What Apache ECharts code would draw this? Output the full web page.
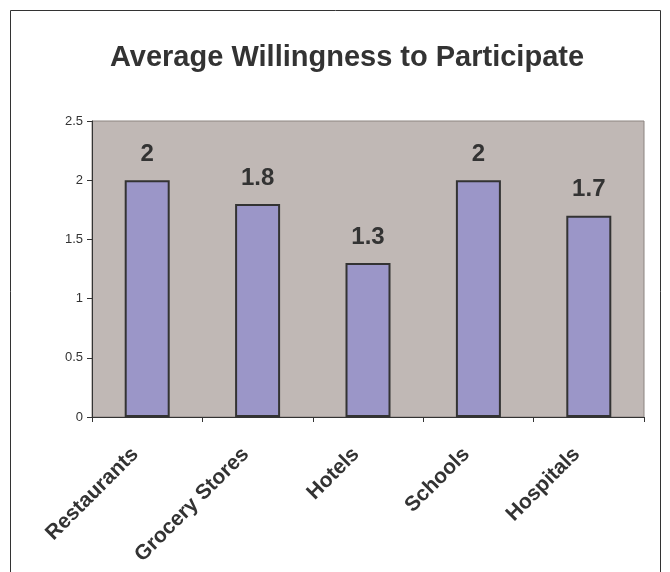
<!DOCTYPE html>
<html>
<head>
<meta charset="utf-8">
<script src="https://cdn.jsdelivr.net/npm/echarts@6/dist/echarts.min.js"></script>
<style>
  html, body { margin: 0; padding: 0; background: #fff; }
  #chart { width: 670px; height: 572px; }
</style>
</head>
<body>
<div id="chart"></div>
<script>
const categories = ['Restaurants', 'Grocery Stores', 'Hotels', 'Schools', 'Hospitals'];
const willingness = [2, 1.8, 1.3, 2, 1.7];
const yTicks = [0, 0.5, 1, 1.5, 2, 2.5];

const myChart = echarts.init(document.getElementById('chart'));
const option = {
  backgroundColor: '#fff',
  animation: false,
  // outer frame of the chart area
  graphic: [{
    type: 'rect',
    shape: { x: 10.5, y: 10.5, width: 650, height: 600 },
    style: { fill: 'none', stroke: '#333', lineWidth: 1 },
    silent: true
  }],
  title: {
    text: 'Average Willingness to Participate',
    left: 342,
    textAlign: 'center',
    top: 38,
    textStyle: {
      fontFamily: 'Liberation Sans',
      fontWeight: 'bold',
      fontSize: 29,
      color: '#333'
    }
  },
  grid: {
    left: 92, right: 26, top: 121, bottom: 155,
    show: true,
    backgroundColor: '#C0B8B5',
    borderColor: '#8C8480',
    borderWidth: 1
  },
  xAxis: {
    type: 'category',
    data: categories,
    axisLine: { lineStyle: { color: '#333', width: 1 } },
    axisTick: { show: true, length: 5, lineStyle: { color: '#333' } },
    axisLabel: {
      rotate: 45,
      margin: 22,
      padding: [0, 17, 0, 0],
      interval: 0,
      fontFamily: 'Liberation Sans',
      fontWeight: 'bold',
      fontSize: 21,
      color: '#333'
    }
  },
  yAxis: {
    type: 'value',
    min: 0,
    max: 2.5,
    interval: 0.5,
    splitLine: { show: false },
    axisLine: { show: true, lineStyle: { color: '#333', width: 1 } },
    axisTick: { show: true, length: 5, lineStyle: { color: '#333' } },
    axisLabel: {
      margin: 9,
      fontFamily: 'Liberation Sans',
      fontSize: 13,
      color: '#333',
      formatter: v => yTicks.includes(v) ? String(v) : ''
    }
  },
  series: [{
    type: 'bar',
    data: willingness,
    barWidth: 45,
    itemStyle: { color: '#9B96C8', borderColor: '#333', borderWidth: 2 },
    label: {
      show: true,
      position: 'top',
      distance: 14,
      fontFamily: 'Liberation Sans',
      fontWeight: 'bold',
      fontSize: 24,
      color: '#333'
    }
  }]
};
myChart.setOption(option);
</script>
</body>
</html>
